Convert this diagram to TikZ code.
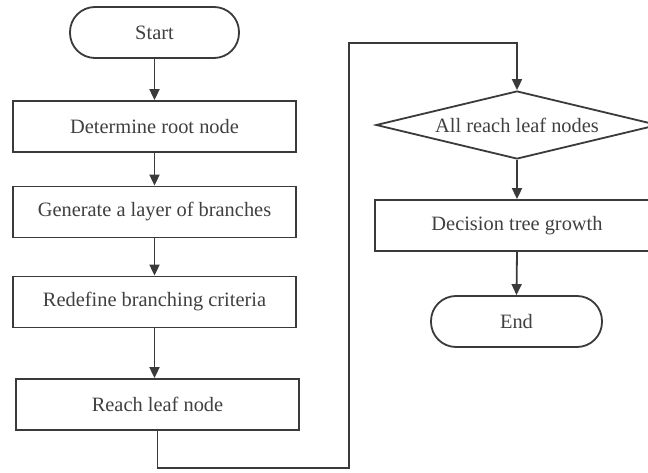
\documentclass[tikz,border=0pt]{standalone}
\usepackage{fontspec}
\setmainfont{Liberation Serif}
\usetikzlibrary{shapes.geometric,arrows.meta}
\definecolor{ink}{HTML}{3A3A3A}
\definecolor{txt}{HTML}{404040}
\begin{document}
\begin{tikzpicture}[x=1pt,y=-1pt,
  every node/.style={font=\fontsize{20.4}{24}\selectfont, text=txt, inner sep=0pt},
  boxnode/.style={draw=ink, line width=1.8pt, minimum width=283pt, minimum height=51pt},
  termnode/.style={draw=ink, line width=1.8pt, rounded corners=25pt, minimum height=51pt},
  decnode/.style={draw=ink, line width=1.8pt, diamond, aspect=4.15, minimum width=282pt, minimum height=68pt},
  arr/.style={draw=ink, line width=1.8pt, -{Triangle[length=11pt,width=10pt]}},
  conn/.style={draw=ink, line width=1.8pt}]
\useasboundingbox (0,0) rectangle (648,473);
\fill[white] (0,0) rectangle (648,473);
\clip (0,0) rectangle (648,473);

\node[termnode, minimum width=169pt] (start) at (154.5,32.5) {Start};
\node[boxnode] (root) at (154.5,126.5) {Determine root node};
\node[boxnode] (gen) at (154.5,212) {Generate a layer of branches};
\node[boxnode] (redef) at (154.5,302) {Redefine branching criteria};
\node[boxnode] (reach) at (157.5,404.5) {Reach leaf node};

\node[decnode] (dia) at (517,125) {All reach leaf nodes};
\node[boxnode, minimum width=284pt] (grow) at (517,225.5) {Decision tree growth};
\node[termnode, minimum width=171pt] (endn) at (516.5,321.5) {End};

\coordinate (loopb) at (157,468);
\coordinate (loopx) at (349,43);

\draw[arr] (start.south) -- (root.north);
\draw[arr] (root.south) -- (gen.north);
\draw[arr] (gen.south) -- (redef.north);
\draw[arr] (redef.south) -- (redef.south |- reach.north);
\draw[arr] (reach.south) |- (loopx |- loopb) -- (loopx) -| (dia.north);
\draw[arr] (dia.south) -- (grow.north);
\draw[arr] (grow.south) -- (endn.north);
\end{tikzpicture}
\end{document}
